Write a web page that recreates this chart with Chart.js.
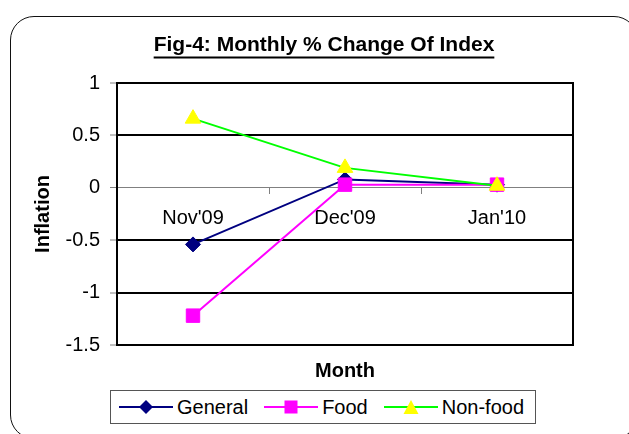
<!DOCTYPE html>
<html><head><meta charset="utf-8">
<script src="https://cdn.jsdelivr.net/npm/chart.js@4.4.1/dist/chart.umd.min.js"></script>
<style>
html,body{margin:0;padding:0;background:#fff;overflow:hidden;}
#wrap{position:relative;width:629px;height:434px;overflow:hidden;}
#frame{position:absolute;left:10px;top:16px;width:628px;height:423px;border:1.5px solid #111;border-radius:24px;box-sizing:border-box;}
#c{position:absolute;left:0;top:0;}
#legend{position:absolute;left:110px;top:390px;width:426px;height:34px;box-sizing:border-box;border:1px solid #555;background:#fff;display:flex;align-items:center;padding-left:8px;font:20px "Liberation Sans",Arial,sans-serif;color:#000;white-space:nowrap;}
.item{display:flex;align-items:center;margin-right:16px;line-height:32px;}
.item svg{margin-right:4px;display:block;}
</style></head>
<body><div id="wrap"><div id="frame"></div><canvas id="c" width="629" height="434"></canvas><div id="legend"></div></div>
<script>
const categories = ["Nov'09", "Dec'09", "Jan'10"];
const seriesNames = ["General", "Food", "Non-food"];
const generalValues = [-0.54, 0.08, 0.03];
const foodValues = [-1.22, 0.03, 0.03];
const nonFoodValues = [0.66, 0.19, 0.02];
const yTicks = [1, 0.5, 0, -0.5, -1, -1.5];
const yTickLabels = ["1", "0.5", "0", "-0.5", "-1", "-1.5"];
const chartTitle = "Fig-4: Monthly % Change Of Index";
const xTitle = "Month";
const yTitle = "Inflation";

const FONT = '"Liberation Sans", Arial, sans-serif';
Chart.defaults.font.family = FONT;
Chart.defaults.font.size = 20;
Chart.defaults.color = '#000';

const styles = [
  {line: '#000080', fill: '#000080', point: 'rectRot', r: 7.5, order: 3},
  {line: '#FF00FF', fill: '#FF00FF', point: 'rect', r: 9.5, order: 2},
  {line: '#00FF00', fill: '#FFFF00', point: 'triangle', r: 9, order: 1}
];
const valuesList = [generalValues, foodValues, nonFoodValues];

const datasets = seriesNames.map((name, i) => ({
  label: name,
  data: valuesList[i],
  borderColor: styles[i].line,
  backgroundColor: styles[i].fill,
  pointBackgroundColor: styles[i].fill,
  pointBorderColor: styles[i].fill,
  pointBorderWidth: 1,
  pointStyle: styles[i].point,
  pointRadius: styles[i].r,
  pointHoverRadius: styles[i].r,
  borderWidth: 2,
  tension: 0,
  order: styles[i].order,
  clip: false
}));

const TITLE_SIZE = 21;

const framePlugin = {
  id: 'framePlugin',
  beforeDatasetsDraw(chart) {
    const {ctx, chartArea: a} = chart;
    ctx.save();
    ctx.strokeStyle = '#000';
    ctx.lineWidth = 2;
    ctx.strokeRect(a.left, a.top, a.right - a.left, a.bottom - a.top);
    ctx.restore();
  },
  afterDraw(chart) {
    const tb = chart.titleBlock;
    if (!tb) return;
    const ctx = chart.ctx;
    ctx.save();
    ctx.font = 'bold ' + TITLE_SIZE + 'px ' + FONT;
    const w = ctx.measureText(chartTitle).width;
    const cx = (tb.left + tb.right) / 2;
    ctx.strokeStyle = '#000';
    ctx.lineWidth = 2;
    ctx.beginPath();
    ctx.moveTo(cx - w / 2, 57.5);
    ctx.lineTo(cx + w / 2, 57.5);
    ctx.stroke();
    ctx.restore();
  }
};

new Chart(document.getElementById('c'), {
  type: 'line',
  data: {labels: categories, datasets},
  plugins: [framePlugin],
  options: {
    responsive: false,
    animation: false,
    devicePixelRatio: 1,
    layout: {padding: {left: 19, right: 0, top: 0, bottom: 51}},
    plugins: {
      legend: {display: false},
      tooltip: {enabled: false},
      title: {display: true, text: chartTitle, font: {size: TITLE_SIZE, weight: 'bold'}, color: '#000', lineHeight: 1.2, padding: {top: 33, bottom: 24.8}}
    },
    scales: {
      x: {
        type: 'category',
        position: {y: 0},
        offset: true,
        grid: {display: true, drawOnChartArea: false, drawTicks: true, tickLength: 6, offset: true, color: '#808080', tickColor: '#808080', tickWidth: 1},
        border: {display: true, color: '#808080', width: 1},
        ticks: {font: {size: 20}, color: '#000', padding: 13, maxRotation: 0, autoSkip: false}
      },
      xb: {
        type: 'category',
        position: 'bottom',
        offset: true,
        grid: {display: false, drawTicks: false},
        border: {display: false},
        ticks: {display: false},
        title: {display: true, text: xTitle, font: {size: 20, weight: 'bold'}, color: '#000', padding: {top: 14, bottom: 0}}
      },
      y: {
        type: 'linear',
        min: -1.5,
        max: 1,
        afterBuildTicks: s => { s.ticks = yTicks.map(v => ({value: v})); },
        afterFit: s => { s.width = 98; },
        ticks: {
          font: {size: 20}, color: '#000', padding: 10,
          callback: (v) => { const k = yTicks.indexOf(v); return k >= 0 ? yTickLabels[k] : String(v); }
        },
        grid: {
          color: c => (c.tick && c.tick.value === 0) ? '#808080' : '#000',
          lineWidth: c => (c.tick && c.tick.value === 0) ? 1 : 2,
          tickColor: '#808080', tickWidth: 1, tickLength: 7, drawTicks: true
        },
        border: {display: false},
        title: {display: true, text: yTitle, font: {size: 20, weight: 'bold'}, color: '#000', padding: {top: 12, bottom: 0}}
      },
      yr: {
        type: 'linear',
        position: 'right',
        display: true,
        grid: {display: false, drawTicks: false},
        border: {display: false},
        ticks: {display: false},
        afterFit: s => { s.width = 56; }
      }
    }
  }
});

// HTML legend built from the series arrays
const legend = document.getElementById('legend');
seriesNames.forEach((name, i) => {
  const st = styles[i];
  let marker = '';
  if (st.point === 'rectRot') marker = '<polygon points="27,0 34,7 27,14 20,7" fill="' + st.fill + '"/>';
  else if (st.point === 'rect') marker = '<rect x="20.5" y="0.5" width="13" height="13" fill="' + st.fill + '"/>';
  else marker = '<polygon points="27,0 34.5,14 19.5,14" fill="' + st.fill + '"/>';
  const item = document.createElement('div');
  item.className = 'item';
  item.innerHTML = '<svg width="54" height="14" viewBox="0 0 54 14"><line x1="0" y1="7" x2="54" y2="7" stroke="' + st.line + '" stroke-width="2"/>' + marker + '</svg><span>' + name + '</span>';
  legend.appendChild(item);
});
</script>
</body></html>
